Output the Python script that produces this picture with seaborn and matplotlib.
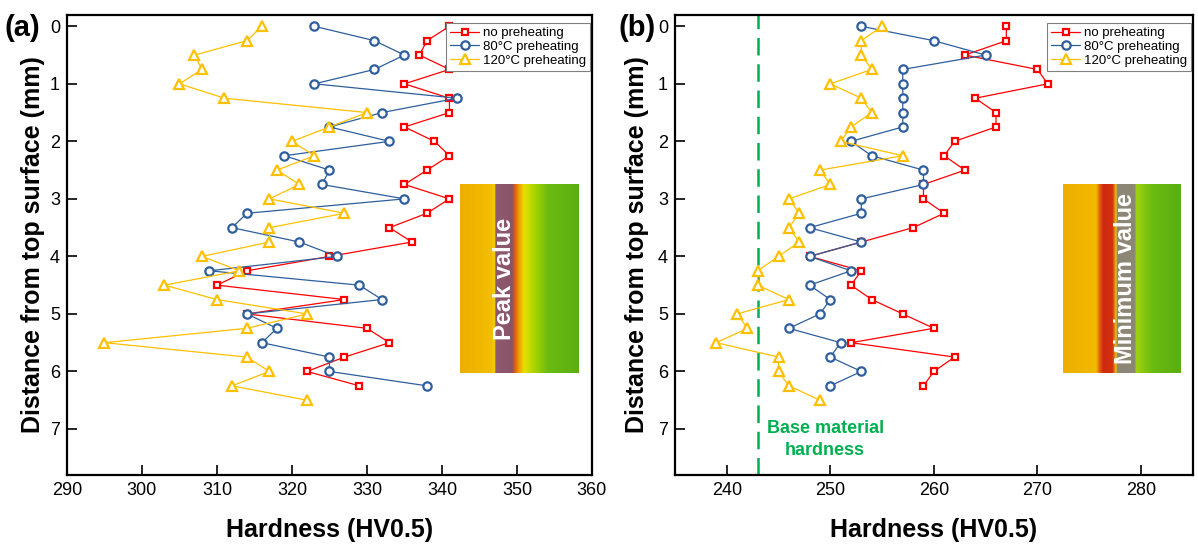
import numpy as np
import pandas as pd
import matplotlib
matplotlib.use("Agg")
import matplotlib.pyplot as plt
from matplotlib.colors import to_rgb
import seaborn as sns

# Measurement depths (mm) below the top surface
depth = [0, 0.25, 0.5, 0.75, 1.0, 1.25, 1.5, 1.75, 2.0, 2.25, 2.5, 2.75, 3.0,
         3.25, 3.5, 3.75, 4.0, 4.25, 4.5, 4.75, 5.0, 5.25, 5.5, 5.75, 6.0,
         6.25, 6.5]

# (a) hardness profiles, HV0.5
hv_a_none = [341, 338, 337, 341, 335, 341, 341, 335, 339, 341, 338, 335, 341,
             338, 333, 336, 325, 314, 310, 327, 314, 330, 333, 327, 322, 329]
hv_a_80 = [323, 331, 335, 331, 323, 342, 332, 325, 333, 319, 325, 324, 335,
           314, 312, 321, 326, 309, 329, 332, 314, 318, 316, 325, 325, 338]
hv_a_120 = [316, 314, 307, 308, 305, 311, 330, 325, 320, 323, 318, 321, 317,
            327, 317, 317, 308, 313, 303, 310, 322, 314, 295, 314, 317, 312, 322]

# (b) hardness profiles, HV0.5
hv_b_none = [267, 267, 263, 270, 271, 264, 266, 266, 262, 261, 263, 259, 259,
             261, 258, 253, 248, 253, 252, 254, 257, 260, 252, 262, 260, 259]
hv_b_80 = [253, 260, 265, 257, 257, 257, 257, 257, 252, 254, 259, 259, 253,
           253, 248, 253, 248, 252, 248, 250, 249, 246, 251, 250, 253, 250]
hv_b_120 = [255, 253, 253, 254, 250, 253, 254, 252, 251, 257, 249, 250, 246,
            247, 246, 247, 245, 243, 243, 246, 241, 242, 239, 245, 245, 246, 249]

base_hardness = 243

series_names = ["no preheating", "80°C preheating", "120°C preheating"]
series_colors = ["#FF0000", "#2E5E9C", "#FFC000"]
series_markers = ["s", "o", "^"]
series_msize = [5.0, 6.0, 7.0]

xticks_a = [290, 300, 310, 320, 330, 340, 350, 360]
xticks_b = [240, 250, 260, 270, 280]
yticks = [0, 1, 2, 3, 4, 5, 6, 7]

# colour stops of the two hardness-map insets (position across width, colour)
inset_a_stops = [(0.00, "#EFAE00"), (0.27, "#F3BE00"), (0.29, "#F5D800"),
                 (0.30, "#8E5A6E"), (0.44, "#8A5468"), (0.46, "#E05A10"),
                 (0.50, "#F0A400"), (0.54, "#E6E000"), (0.63, "#A6D400"),
                 (0.74, "#6CBB10"), (1.00, "#5AAE10")]
inset_b_stops = [(0.00, "#EFAE00"), (0.28, "#F2BA00"), (0.31, "#E06010"),
                 (0.34, "#D02A10"), (0.42, "#D23210"), (0.45, "#F0C800"),
                 (0.46, "#8C8676"), (0.61, "#8C8676"), (0.62, "#A0D210"),
                 (0.76, "#6CBB10"), (1.00, "#5AAE10")]

sns.set_theme(style="ticks")
plt.rcParams["font.family"] = ["Liberation Sans", "DejaVu Sans"]
plt.rcParams["text.color"] = "black"
plt.rcParams["axes.labelcolor"] = "black"
plt.rcParams["xtick.color"] = "black"
plt.rcParams["ytick.color"] = "black"

fig = plt.figure(figsize=(11.98, 5.52), dpi=100)
ax_a = fig.add_axes([0.0559, 0.1395, 0.4382, 0.8337])
ax_b = fig.add_axes([0.5634, 0.1395, 0.4322, 0.8337])


def draw_profiles(ax, profiles):
    for vals, name, col, mk, ms in zip(profiles, series_names, series_colors,
                                       series_markers, series_msize):
        df = pd.DataFrame({"hv": vals, "depth": depth[:len(vals)]})
        sns.lineplot(data=df, x="hv", y="depth", sort=False, estimator=None,
                     ax=ax, color=col, linewidth=0.9, marker=mk,
                     markersize=ms, markerfacecolor="white",
                     markeredgecolor=col, markeredgewidth=1.6, label=name)
    leg = ax.legend(loc="upper right", bbox_to_anchor=(0.997, 0.982),
                    fontsize=9.5, frameon=True, fancybox=False,
                    framealpha=1, edgecolor="#808080", handlelength=2.2,
                    handletextpad=0.3, labelspacing=0.12, borderpad=0.3,
                    borderaxespad=0.0)
    leg.get_frame().set_linewidth(0.8)


def style_axes(ax, xlim, xticks):
    ax.set_xlim(*xlim)
    ax.set_ylim(7.8, -0.2)
    ax.set_xticks(xticks)
    ax.set_yticks(yticks)
    ax.tick_params(direction="in", length=7, width=1.2, labelsize=13,
                   colors="black", pad=5)
    for sp in ax.spines.values():
        sp.set_visible(True)
        sp.set_linewidth(1.6)
        sp.set_color("black")
    ax.set_xlabel("Hardness (HV0.5)", fontsize=18, fontweight="bold",
                  labelpad=14, color="black")
    ax.set_ylabel("Distance from top surface (mm)", fontsize=18,
                  fontweight="bold", color="black")


draw_profiles(ax_a, [hv_a_none, hv_a_80, hv_a_120])
style_axes(ax_a, (290, 360), xticks_a)
ax_a.yaxis.set_label_coords(-0.042, 0.5)

ax_b.axvline(base_hardness, color="#00B050", linewidth=1.8,
             linestyle=(0, (7, 3.5)), zorder=1)
draw_profiles(ax_b, [hv_b_none, hv_b_80, hv_b_120])
style_axes(ax_b, (235, 285), xticks_b)
ax_b.yaxis.set_label_coords(-0.05, 0.5)
ax_b.text(249.5, 7.18, "Base material\nhardness", color="#00B050",
          fontsize=13, fontweight="bold", ha="center", va="center",
          linespacing=1.35)

fig.text(0.004, 0.975, "(a)", fontsize=21, fontweight="bold", va="top",
         ha="left", color="black")
fig.text(0.516, 0.975, "(b)", fontsize=21, fontweight="bold", va="top",
         ha="left", color="black")


def hardness_map(rect, stops, label, label_x):
    ax = fig.add_axes(rect)
    pos = np.linspace(0, 1, 240)
    xs = [s[0] for s in stops]
    rgb = np.array([to_rgb(s[1]) for s in stops])
    row = np.stack([np.interp(pos, xs, rgb[:, k]) for k in range(3)], axis=-1)
    img = np.repeat(row[None, :, :], 4, axis=0)
    ax.imshow(img, aspect="auto", interpolation="bilinear",
              extent=(0, 1, 0, 1))
    ax.set_axis_off()
    ax.text(label_x, 0.5, label, rotation=90, color="white", fontsize=17,
            fontweight="bold", ha="center", va="center",
            transform=ax.transAxes)


hardness_map([0.384, 0.3243, 0.0985, 0.3424], inset_a_stops, "Peak value",
             0.373)
hardness_map([0.8873, 0.3243, 0.0977, 0.3424], inset_b_stops,
             "Minimum value", 0.538)

fig.savefig("out.png", dpi=100)
